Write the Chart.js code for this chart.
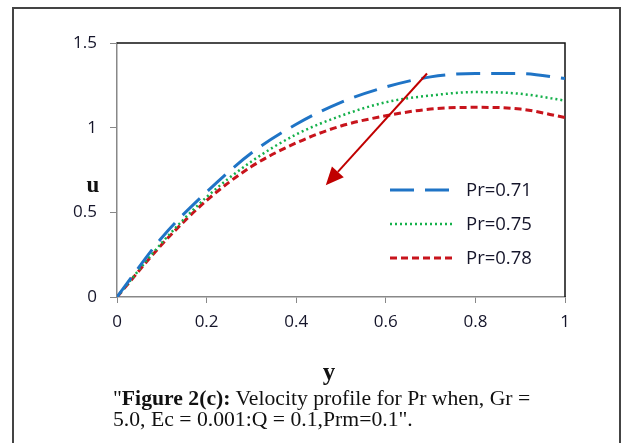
<!DOCTYPE html>
<html lang="en">
  <head>
    <meta charset="UTF-8" />
    <title>Velocity profile for Pr</title>
    <script src="https://cdn.jsdelivr.net/npm/chart.js"></script>
    <style>
      body {
        margin: 0;
        background: #fff;
      }
      .wrap {
        position: relative;
        width: 624px;
        height: 443px;
        overflow: hidden;
      }
      .caption {
        position: absolute;
        left: 113px;
        top: 388px;
        font-family: "Liberation Serif", serif;
        font-size: 21.7px;
        line-height: 21px;
        color: #111;
        white-space: nowrap;
      }
    </style>
  </head>
  <body>
    <div class="wrap">
      <canvas id="chart" width="624" height="443"></canvas>
      <div class="caption">
        <div>"<b>Figure 2(c):</b> Velocity profile for Pr when, Gr =</div>
        <div>5.0, Ec = 0.001:Q = 0.1,Prm=0.1".</div>
      </div>
    </div>

    <script>
      // y positions across the channel
      const yValues = [0, 0.1, 0.2, 0.3, 0.4, 0.5, 0.6, 0.7, 0.8, 0.9, 1.0];
      // velocity u for each Prandtl number
      const u071 = [0, 0.35, 0.62, 0.85, 1.02, 1.15, 1.24, 1.3, 1.32, 1.32, 1.29];
      const u075 = [0, 0.32, 0.59, 0.8, 0.96, 1.07, 1.15, 1.19, 1.21, 1.2, 1.16];
      const u078 = [0, 0.31, 0.57, 0.77, 0.91, 1.01, 1.07, 1.11, 1.12, 1.11, 1.06];
      const seriesLabels = ["Pr=0.71", "Pr=0.75", "Pr=0.78"];

      const xTicks = [0, 0.2, 0.4, 0.6, 0.8, 1];
      const uTicks = [0, 0.5, 1, 1.5];

      // arrow showing increasing Pr: [y, u] start and tip
      const arrowFrom = [0.692, 1.32];
      const arrowTo = [0.466, 0.66];

      const toPoints = (vals) => yValues.map((v, i) => ({ x: v, y: vals[i] }));

      const tickFont = { family: "Open Sans", size: 17 };

      const extras = {
        id: "extras",
        beforeDatasetsDraw(chart) {
          const { ctx, chartArea: a } = chart;
          ctx.save();
          ctx.strokeStyle = "#111";
          ctx.lineWidth = 1.5;
          ctx.beginPath();
          ctx.moveTo(a.left, a.top);
          ctx.lineTo(a.right, a.top);
          ctx.lineTo(a.right, a.bottom);
          ctx.stroke();
          ctx.restore();
        },
        afterDraw(chart) {
          const { ctx, scales } = chart;
          ctx.save();

          // outer frame
          ctx.strokeStyle = "#444";
          ctx.lineWidth = 2;
          ctx.strokeRect(13, 8, 607, 460);

          // arrow
          const x1 = scales.x.getPixelForValue(arrowFrom[0]);
          const y1 = scales.y.getPixelForValue(arrowFrom[1]);
          const x2 = scales.x.getPixelForValue(arrowTo[0]);
          const y2 = scales.y.getPixelForValue(arrowTo[1]);
          const ang = Math.atan2(y2 - y1, x2 - x1);
          const headLen = 18;
          const bx = x2 - headLen * Math.cos(ang);
          const by = y2 - headLen * Math.sin(ang);
          ctx.strokeStyle = "#c00000";
          ctx.fillStyle = "#c00000";
          ctx.lineWidth = 2;
          ctx.beginPath();
          ctx.moveTo(x1, y1);
          ctx.lineTo(bx, by);
          ctx.stroke();
          ctx.beginPath();
          ctx.moveTo(x2, y2);
          ctx.lineTo(bx + 8 * Math.sin(ang), by - 8 * Math.cos(ang));
          ctx.lineTo(bx - 8 * Math.sin(ang), by + 8 * Math.cos(ang));
          ctx.closePath();
          ctx.fill();

          // legend
          chart.data.datasets.forEach((ds, i) => {
            const ly = 190 + i * 34;
            ctx.strokeStyle = ds.borderColor;
            ctx.lineWidth = ds.borderWidth;
            ctx.setLineDash(ds.borderDash);
            ctx.beginPath();
            ctx.moveTo(390, ly);
            ctx.lineTo(453, ly);
            ctx.stroke();
            ctx.setLineDash([]);
            ctx.fillStyle = "#15152a";
            ctx.font = "18.5px 'Open Sans'";
            ctx.textBaseline = "middle";
            ctx.textAlign = "left";
            ctx.fillText(ds.label, 466, ly + 1);
          });

          // axis titles
          ctx.fillStyle = "#111";
          ctx.font = "bold 23px 'Liberation Serif'";
          ctx.textAlign = "center";
          ctx.textBaseline = "middle";
          ctx.fillText("u", 93, 186);
          ctx.font = "bold 25px 'Liberation Serif'";
          ctx.fillText("y", 329, 374);
          ctx.restore();
        },
      };

      new Chart(document.getElementById("chart"), {
        type: "line",
        data: {
          datasets: [
            {
              label: seriesLabels[0],
              data: toPoints(u071),
              borderColor: "#1f74c6",
              borderWidth: 3,
              borderDash: [24, 11],
            },
            {
              label: seriesLabels[1],
              data: toPoints(u075),
              borderColor: "#14b04a",
              borderWidth: 2.5,
              borderDash: [2, 3],
            },
            {
              label: seriesLabels[2],
              data: toPoints(u078),
              borderColor: "#c8141c",
              borderWidth: 3,
              borderDash: [7, 4],
            },
          ],
        },
        options: {
          responsive: false,
          animation: false,
          layout: { padding: { left: 0, top: 43, right: 59, bottom: 0 } },
          elements: {
            point: { radius: 0 },
            line: { cubicInterpolationMode: "monotone", fill: false },
          },
          plugins: {
            legend: { display: false },
            tooltip: { enabled: false },
          },
          scales: {
            x: {
              type: "linear",
              min: 0,
              max: 1,
              afterFit: (s) => (s.height = 146),
              afterBuildTicks: (s) => (s.ticks = xTicks.map((v) => ({ value: v }))),
              ticks: {
                font: tickFont,
                color: "#15152a",
                padding: 9,
                maxRotation: 0,
                callback: (v) => String(v),
              },
              grid: { drawOnChartArea: false, color: "#888", tickLength: 6 },
              border: { color: "#888", width: 1.5 },
            },
            y: {
              min: 0,
              max: 1.5,
              afterFit: (s) => (s.width = 117),
              afterBuildTicks: (s) => (s.ticks = uTicks.map((v) => ({ value: v }))),
              ticks: {
                font: tickFont,
                color: "#15152a",
                padding: 13,
                callback: (v) => String(v),
              },
              grid: { drawOnChartArea: false, color: "#888", tickLength: 7 },
              border: { color: "#888", width: 1.5 },
            },
          },
        },
        plugins: [extras],
      });
    </script>
  </body>
</html>
